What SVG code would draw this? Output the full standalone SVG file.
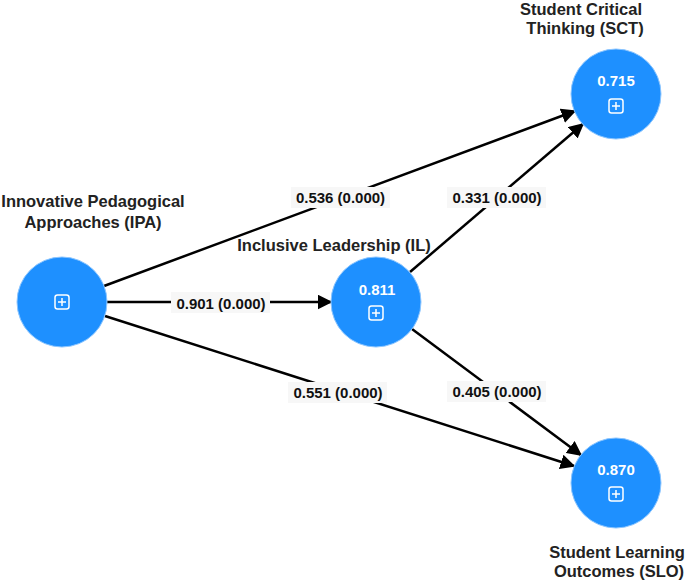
<svg xmlns="http://www.w3.org/2000/svg" width="685" height="585" viewBox="0 0 685 585">
<defs>
<marker id="arr" viewBox="0 0 10 10" refX="9" refY="5" markerWidth="6" markerHeight="6" markerUnits="strokeWidth" orient="auto">
<path d="M0,0 L10,5 L0,10 z" fill="#000"/>
</marker>
<g id="plus">
<rect x="-7" y="-7" width="14" height="14" rx="2.5" fill="none" stroke="#fff" stroke-width="1.5"/>
<path d="M-4,0 H4 M0,-4 V4" stroke="#fff" stroke-width="1.5"/>
</g>
</defs>
<style>
.node{fill:#1e90ff;stroke:#8cc6ff;stroke-width:1}
.lbl{font-family:"Liberation Sans",Arial,sans-serif;font-weight:bold;font-size:16.5px;fill:#222;text-anchor:middle}
.val{font-family:"Liberation Sans",Arial,sans-serif;font-weight:bold;font-size:15px;fill:#fff;text-anchor:middle}
.edge{stroke:#000;stroke-width:2.5;fill:none;marker-end:url(#arr)}
.elbg{fill:#f7f7f7}
.el{font-family:"Liberation Sans",Arial,sans-serif;font-weight:bold;font-size:15px;fill:#111;text-anchor:middle}
</style>
<rect width="685" height="585" fill="#fff"/>
<g id="connectors">
<line class="edge" x1="104" y1="286" x2="575" y2="111"/>
<line class="edge" x1="107" y1="302" x2="331" y2="302"/>
<line class="edge" x1="105" y1="316" x2="574" y2="466"/>
<line class="edge" x1="410" y1="272" x2="583" y2="124"/>
<line class="edge" x1="412" y1="329" x2="581" y2="455"/>
<rect class="elbg" x="291" y="187" width="99" height="21"/>
<text class="el" x="340.5" y="203">0.536 (0.000)</text>
<rect class="elbg" x="447" y="187" width="99" height="21"/>
<text class="el" x="497" y="203">0.331 (0.000)</text>
<rect class="elbg" x="171" y="292" width="99" height="21"/>
<text class="el" x="221" y="308.5">0.901 (0.000)</text>
<rect class="elbg" x="288" y="382" width="99" height="21"/>
<text class="el" x="338" y="398">0.551 (0.000)</text>
<rect class="elbg" x="447" y="381" width="99" height="21"/>
<text class="el" x="497" y="397">0.405 (0.000)</text>
</g>
<g id="IPA">
<circle class="node" cx="62" cy="302" r="45"/>
<use href="#plus" x="62" y="302"/>
<text class="lbl" x="93" y="207">Innovative Pedagogical</text>
<text class="lbl" x="93" y="228">Approaches (IPA)</text>
</g>
<g id="IL">
<circle class="node" cx="376" cy="302" r="45"/>
<text class="val" x="377" y="294.5">0.811</text>
<use href="#plus" x="376" y="313"/>
<text class="lbl" x="334" y="251">Inclusive Leadership (IL)</text>
</g>
<g id="SCT">
<circle class="node" cx="616" cy="94" r="45"/>
<text class="val" x="616" y="86">0.715</text>
<use href="#plus" x="616" y="106"/>
<text class="lbl" x="581" y="15">Student Critical</text>
<text class="lbl" x="585" y="34">Thinking (SCT)</text>
</g>
<g id="SLO">
<circle class="node" cx="616" cy="483" r="45"/>
<text class="val" x="616" y="475">0.870</text>
<use href="#plus" x="616" y="494"/>
<text class="lbl" x="617" y="558">Student Learning</text>
<text class="lbl" x="619" y="577">Outcomes (SLO)</text>
</g>
</svg>
